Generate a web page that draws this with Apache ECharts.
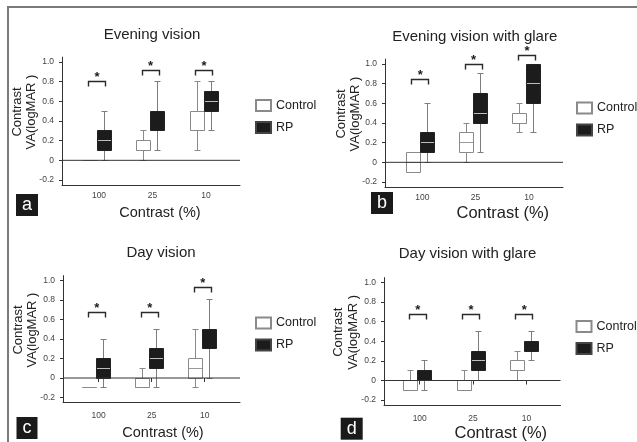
<!DOCTYPE html>
<html><head><meta charset="utf-8">
<script src="https://cdn.jsdelivr.net/npm/echarts@6/dist/echarts.min.js"></script>
<style>html,body{margin:0;padding:0;background:#fff}#c{width:637px;height:442px}</style>
</head><body><div id="c"></div>
<script>
// ---------- data ----------
const categories = ['100', '25', '10'];
const seriesNames = ['Control', 'RP'];
const yTickValues = [-0.2, 0, 0.2, 0.4, 0.6, 0.8, 1.0];
const yTickLabels = ['-0.2', '0', '0.2', '0.4', '0.6', '0.8', '1.0'];
const panelTitles = ['Evening vision', 'Evening vision with glare', 'Day vision', 'Day vision with glare'];
const panelLetters = ['a', 'b', 'c', 'd'];
const xAxisTitle = 'Contrast (%)';
const yAxisTitle = 'Contrast\nVA(logMAR )';
const sigMark = '*';
const referenceLine = 0;

// [min, Q1, median, Q3, max] for contrast 100, 25, 10 %
const eveningControl = [[0, 0, 0, 0, 0], [0, 0.1, 0.1, 0.2, 0.3], [0.1, 0.3, 0.3, 0.5, 0.8]];
const eveningRP = [[0, 0.1, 0.2, 0.3, 0.5], [0.1, 0.3, 0.3, 0.5, 0.8], [0.3, 0.5, 0.6, 0.7, 0.8]];
const eveningGlareControl = [[-0.1, -0.1, 0, 0.1, 0.1], [0, 0.1, 0.2, 0.3, 0.4], [0.3, 0.4, 0.4, 0.5, 0.6]];
const eveningGlareRP = [[0, 0.1, 0.2, 0.3, 0.6], [0.1, 0.4, 0.5, 0.7, 0.9], [0.3, 0.6, 0.8, 1.0, 1.0]];
const dayControl = [[-0.1, -0.1, -0.1, -0.1, -0.1], [-0.1, -0.1, -0.1, 0, 0.1], [-0.1, 0, 0.1, 0.2, 0.5]];
const dayRP = [[-0.1, 0, 0.1, 0.2, 0.4], [-0.1, 0.1, 0.2, 0.3, 0.5], [0, 0.3, 0.3, 0.5, 0.8]];
const dayGlareControl = [[-0.1, -0.1, -0.1, 0, 0.1], [-0.1, -0.1, -0.1, 0, 0.1], [0, 0.1, 0.1, 0.2, 0.3]];
const dayGlareRP = [[-0.1, 0, 0, 0.1, 0.2], [0, 0.1, 0.2, 0.3, 0.5], [0.2, 0.3, 0.3, 0.4, 0.5]];

// height of the significance bracket per category
const eveningSig = [0.8, 0.91, 0.91];
const eveningGlareSig = [0.845, 1.0, 1.09];
const daySig = [0.675, 0.675, 0.925];
const dayGlareSig = [0.67, 0.67, 0.67];

const panelControl = [eveningControl, eveningGlareControl, dayControl, dayGlareControl];
const panelRP = [eveningRP, eveningGlareRP, dayRP, dayGlareRP];
const panelSig = [eveningSig, eveningGlareSig, daySig, dayGlareSig];

// ---------- layout / style ----------
const FONT = 'Liberation Sans, Arial, Helvetica, sans-serif';
const Y_MIN = -0.25, Y_MAX = 1.05;
const BOX_W = 14, CAP = 3;
const layout = [
  {frameLeft: 62, frameRight: 240, top: 57.1, height: 127.8, pairLeft: 70.25, pairWidth: 160.5, ticks: false, nameGap: 23, xTitle: [160, 213, 14.5], title: [152, 35], letter: [21, 203], legend: [255, 99]},
  {frameLeft: 385, frameRight: 563, top: 59.1, height: 127.8, pairLeft: 393.6, pairWidth: 160, ticks: false, nameGap: 22, xTitle: [502.8, 213, 16.5], title: [474.7, 37], letter: [376, 201], legend: [576, 101.5]},
  {frameLeft: 63, frameRight: 240, top: 275.6, height: 126.8, pairLeft: 70.2, pairWidth: 159, ticks: true, nameGap: 23, xTitle: [163, 433, 14.5], title: [161, 253], letter: [21, 426], legend: [255, 316.5]},
  {frameLeft: 384, frameRight: 560.5, top: 277.6, height: 127.4, pairLeft: 391.05, pairWidth: 160, ticks: true, nameGap: 23.5, xTitle: [500.8, 433, 16.5], title: [467.5, 254], letter: [345.7, 426.7], legend: [575.5, 320]}
];
const styles = {
  Control: {fill: '#ffffff', edge: '#8a8a8a', median: '#9a9a9a', whisker: '#8a8a8a', dx: -BOX_W / 2},
  RP: {fill: '#1c1c1c', edge: '#222222', median: '#bdbdbd', whisker: '#7d7d7d', dx: BOX_W / 2}
};
const crisp = v => Math.round(v - 0.5) + 0.5;

function boxSeries(name, rows, idx) {
  const st = styles[name];
  return {
    type: 'custom', name: name, xAxisIndex: idx, yAxisIndex: idx, z: 2,
    data: rows.map((r, k) => [k].concat(r)),
    encode: {x: 0, y: [1, 2, 3, 4, 5]},
    itemStyle: {color: st.fill, borderColor: name === 'RP' ? '#444' : st.edge, borderWidth: 1},
    renderItem: function (params, api) {
      const x = api.value(0);
      const pMin = api.coord([x, api.value(1)]);
      const pQ1 = api.coord([x, api.value(2)]);
      const pMed = api.coord([x, api.value(3)]);
      const pQ3 = api.coord([x, api.value(4)]);
      const pMax = api.coord([x, api.value(5)]);
      const cx = crisp(pMin[0] + st.dx);
      const yMin = crisp(pMin[1]), yQ1 = crisp(pQ1[1]), yMed = crisp(pMed[1]), yQ3 = crisp(pQ3[1]), yMax = crisp(pMax[1]);
      const left = cx - BOX_W / 2;
      const ln = (x1, y1, x2, y2, c) => ({type: 'line', shape: {x1, y1, x2, y2}, style: {stroke: c, lineWidth: 1}});
      return {
        type: 'group',
        children: [
          ln(cx, yMin, cx, yQ1, st.whisker),
          ln(cx, yQ3, cx, yMax, st.whisker),
          ln(cx - CAP, yMin, cx + CAP, yMin, st.whisker),
          ln(cx - CAP, yMax, cx + CAP, yMax, st.whisker),
          {type: 'rect', shape: {x: left, y: yQ3, width: BOX_W, height: yQ1 - yQ3}, style: {fill: st.fill}},
          ln(left, yMed, left + BOX_W, yMed, st.median),
          {type: 'rect', shape: {x: left, y: yQ3, width: BOX_W, height: yQ1 - yQ3}, style: {fill: null, stroke: st.edge, lineWidth: 1}}
        ]
      };
    }
  };
}

function sigSeries(vals, idx) {
  return {
    type: 'custom', name: 'significance', xAxisIndex: idx, yAxisIndex: idx, z: 4, clip: false,
    data: vals.map((v, k) => [k, v]),
    encode: {x: 0, y: 1},
    renderItem: function (params, api) {
      const p = api.coord([api.value(0), api.value(1)]);
      const cx = p[0], y = crisp(p[1]);
      const l = crisp(cx - 8.5), r = crisp(cx + 8.5);
      return {
        type: 'group',
        children: [
          {type: 'polyline', shape: {points: [[l, y + 5], [l, y], [r, y], [r, y + 5]]}, style: {stroke: '#2a2a2a', lineWidth: 1.4, fill: null}},
          {type: 'text', x: cx, y: y - 4, style: {text: sigMark, fill: '#1a1a1a', font: 'bold 13px ' + FONT, align: 'center', verticalAlign: 'middle'}}
        ]
      };
    }
  };
}

const grid = [], xAxis = [], yAxis = [], series = [], title = [], legend = [];
layout.forEach((L, i) => {
  const f = 3 * i, p = 3 * i + 1, lb = 3 * i + 2;
  grid.push({left: L.frameLeft, top: L.top, width: L.frameRight - L.frameLeft, height: L.height, outerBoundsMode: 'none', containLabel: false});
  grid.push({left: L.pairLeft, top: L.top, width: L.pairWidth, height: L.height, outerBoundsMode: 'none', containLabel: false});
  grid.push({left: L.pairLeft + 2, top: L.top, width: L.pairWidth, height: L.height, outerBoundsMode: 'none', containLabel: false});

  // frame axes
  xAxis.push({type: 'value', gridIndex: f, min: 0, max: 1,
    axisLine: {show: true, onZero: false, lineStyle: {color: '#333', width: 1}},
    axisTick: {show: false}, axisLabel: {show: false}, splitLine: {show: false}});
  yAxis.push({type: 'value', gridIndex: f, min: Y_MIN, max: Y_MAX,
    axisLine: {show: true, onZero: false, lineStyle: {color: '#333', width: 1}},
    axisTick: {show: true, length: 3, customValues: yTickValues, lineStyle: {color: '#333'}},
    axisLabel: {show: true, customValues: yTickValues, fontSize: 8.5, color: '#444', margin: 8, fontFamily: FONT,
      formatter: v => { const k = yTickValues.findIndex(t => Math.abs(t - v) < 1e-6); return k >= 0 ? yTickLabels[k] : ''; }},
    splitLine: {show: false},
    name: yAxisTitle, nameLocation: 'middle', nameGap: L.nameGap, nameRotate: 90, nameMoveOverlap: false,
    nameTextStyle: {fontSize: 13, color: '#222', lineHeight: 14.5, fontFamily: FONT, padding: [0, 0, 0, 18]}});

  // pair axes (boxes)
  xAxis.push({type: 'category', gridIndex: p, data: categories, show: false});
  yAxis.push({type: 'value', gridIndex: p, min: Y_MIN, max: Y_MAX, show: false});

  // label axes
  xAxis.push({type: 'category', gridIndex: lb, data: categories,
    axisLine: {show: false},
    axisTick: {show: L.ticks, alignWithLabel: true, length: 4, lineStyle: {color: '#333'}},
    axisLabel: {fontSize: 8.5, color: '#444', margin: L.ticks ? 9 : 6, fontFamily: FONT},
    splitLine: {show: false}});
  yAxis.push({type: 'value', gridIndex: lb, min: Y_MIN, max: Y_MAX, show: false});

  series.push({type: 'line', name: 'zero', xAxisIndex: f, yAxisIndex: f, data: [[0, referenceLine], [1, referenceLine]],
    symbol: 'none', silent: true, z: 3, lineStyle: {color: '#333', width: 1}});
  series.push(boxSeries('Control', panelControl[i], p));
  series.push(boxSeries('RP', panelRP[i], p));
  series.push(sigSeries(panelSig[i], p));

  title.push({text: panelTitles[i], left: L.title[0], top: L.title[1], textAlign: 'center', textVerticalAlign: 'middle', padding: 0,
    textStyle: {fontSize: 15, fontWeight: 'normal', color: '#222', fontFamily: FONT}});
  title.push({text: xAxisTitle, left: L.xTitle[0], top: L.xTitle[1], textAlign: 'center', textVerticalAlign: 'middle', padding: 0,
    textStyle: {fontSize: L.xTitle[2], fontWeight: 'normal', color: '#222', fontFamily: FONT}});
  title.push({text: panelLetters[i], left: L.letter[0], top: L.letter[1], textAlign: 'center', textVerticalAlign: 'middle',
    padding: [2, 6, 2, 6], backgroundColor: '#1a1a1a',
    textStyle: {fontSize: 18, lineHeight: 18, fontWeight: 'normal', color: '#fff', fontFamily: FONT}});

  legend.push({data: seriesNames, orient: 'vertical', left: L.legend[0], top: L.legend[1], padding: 0,
    icon: 'rect', itemWidth: 15, itemHeight: 11, itemGap: 9, selectedMode: false,
    textStyle: {fontSize: 12.5, color: '#222', fontFamily: FONT}});
});

const chart = echarts.init(document.getElementById('c'), null, {renderer: 'canvas'});
chart.setOption({
  animation: false,
  backgroundColor: '#fff',
  textStyle: {fontFamily: FONT},
  graphic: [{type: 'polyline', silent: true, z: 0, shape: {points: [[8, 442], [8, 7], [637, 7]]}, style: {stroke: '#7a7a7a', lineWidth: 2, fill: null}}],
  title, legend, grid, xAxis, yAxis, series
});
</script></body></html>
